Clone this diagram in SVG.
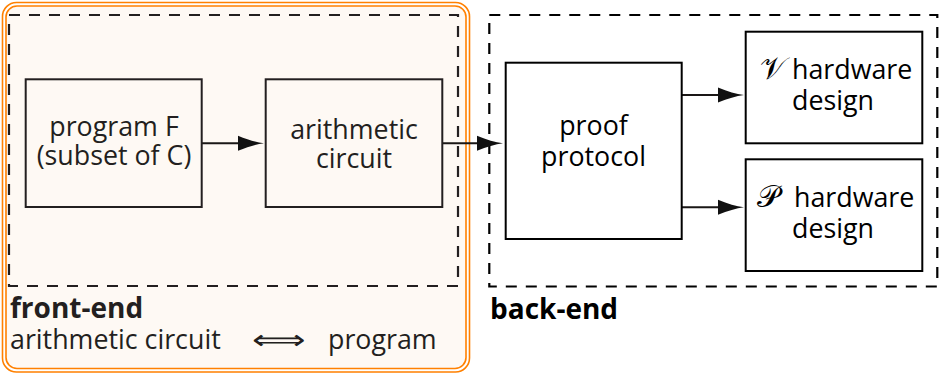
<svg xmlns="http://www.w3.org/2000/svg" width="940" height="375" viewBox="0 0 940 375">
  <style>
    text { font-family: "Open Sans", "Liberation Sans", sans-serif; font-size: 26.8px; }
    .lbl { text-anchor: middle; }
    .bold { font-weight: bold; font-size: 28px; }
    .math { font-family: "DejaVu Serif", "Liberation Serif", serif; font-size: 31px; }
    .ink-f { fill: #231f20; }
    .ink-b { fill: #000; }
    .box { fill: none; stroke-width: 2; }
    .frame { fill: none; stroke-width: 2.2; stroke-dasharray: 11 9; }
    .edge { stroke-width: 2; fill: none; }
    .ring { fill: none; stroke: #ff8000; stroke-width: 1.6; }
  </style>
  <defs>
    <marker id="head" markerUnits="userSpaceOnUse" markerWidth="30" markerHeight="18" viewBox="0 -9 30 18" refX="6" refY="0" orient="auto">
      <path d="M0,-7.5 C10,-3.5 18,-1 26,0 C18,1 10,3.5 0,7.5 Z" fill="#111"/>
    </marker>
  </defs>

  <!-- front-end panel: double orange outline with tinted fill -->
  <rect x="2.5" y="2.5" width="467" height="369.5" rx="14" class="ring"/>
  <rect x="6" y="6" width="460" height="362.5" rx="11" fill="#fef9f4" stroke="#ff8000" stroke-width="1.6"/>

  <!-- dashed stage frames -->
  <g id="front-end">
    <rect x="9" y="15" width="449" height="271" class="frame" stroke="#231f20"/>
    <text class="bold ink-f" x="10" y="318">front-end</text>
    <text class="ink-f" x="10" y="349">arithmetic circuit</text>
    <text class="ink-f" x="252" y="349" font-family="DejaVu Sans" textLength="54" lengthAdjust="spacingAndGlyphs">⟺</text>
    <text class="ink-f" x="328" y="349">program</text>
  </g>
  <g id="back-end">
    <rect x="489.3" y="15" width="448" height="271.5" class="frame" stroke="#000"/>
    <text class="bold ink-b" x="490" y="319">back-end</text>
  </g>

  <!-- connectors -->
  <g id="connectors" stroke="#1a1716">
    <line class="edge" x1="202" y1="143.3" x2="244" y2="143.3" marker-end="url(#head)"/>
    <line class="edge" x1="442" y1="143.3" x2="483" y2="143.3" marker-end="url(#head)"/>
    <line class="edge" x1="682" y1="95" x2="724" y2="95" marker-end="url(#head)"/>
    <line class="edge" x1="682" y1="207.3" x2="724" y2="207.3" marker-end="url(#head)"/>
  </g>

  <g id="program">
    <rect class="box" x="25.7" y="79.3" width="176" height="127.7" stroke="#231f20"/>
    <text class="lbl ink-f" x="114" y="136">program F</text>
    <text class="lbl ink-f" x="114" y="165">(subset of C)</text>
  </g>
  <g id="circuit">
    <rect class="box" x="265.7" y="79.3" width="176.6" height="127.7" stroke="#231f20"/>
    <text class="lbl ink-f" x="354" y="139">arithmetic</text>
    <text class="lbl ink-f" x="354" y="168">circuit</text>
  </g>
  <g id="protocol">
    <rect class="box" x="505.7" y="62.7" width="176" height="176.3" stroke="#000"/>
    <text class="lbl ink-b" x="593.5" y="135">proof</text>
    <text class="lbl ink-b" x="593.5" y="165.5">protocol</text>
  </g>
  <g id="verifier">
    <rect class="box" x="745.7" y="31.7" width="176.6" height="111.6" stroke="#000"/>
    <text class="ink-b" x="760" y="79"><tspan class="math">𝒱</tspan><tspan x="792">hardware</tspan></text>
    <text class="lbl ink-b" x="833" y="110">design</text>
  </g>
  <g id="prover">
    <rect class="box" x="745.7" y="159.3" width="176.6" height="111.7" stroke="#000"/>
    <text class="ink-b" x="757" y="207"><tspan class="math">𝒫</tspan><tspan x="794">hardware</tspan></text>
    <text class="lbl ink-b" x="833" y="238">design</text>
  </g>
</svg>
